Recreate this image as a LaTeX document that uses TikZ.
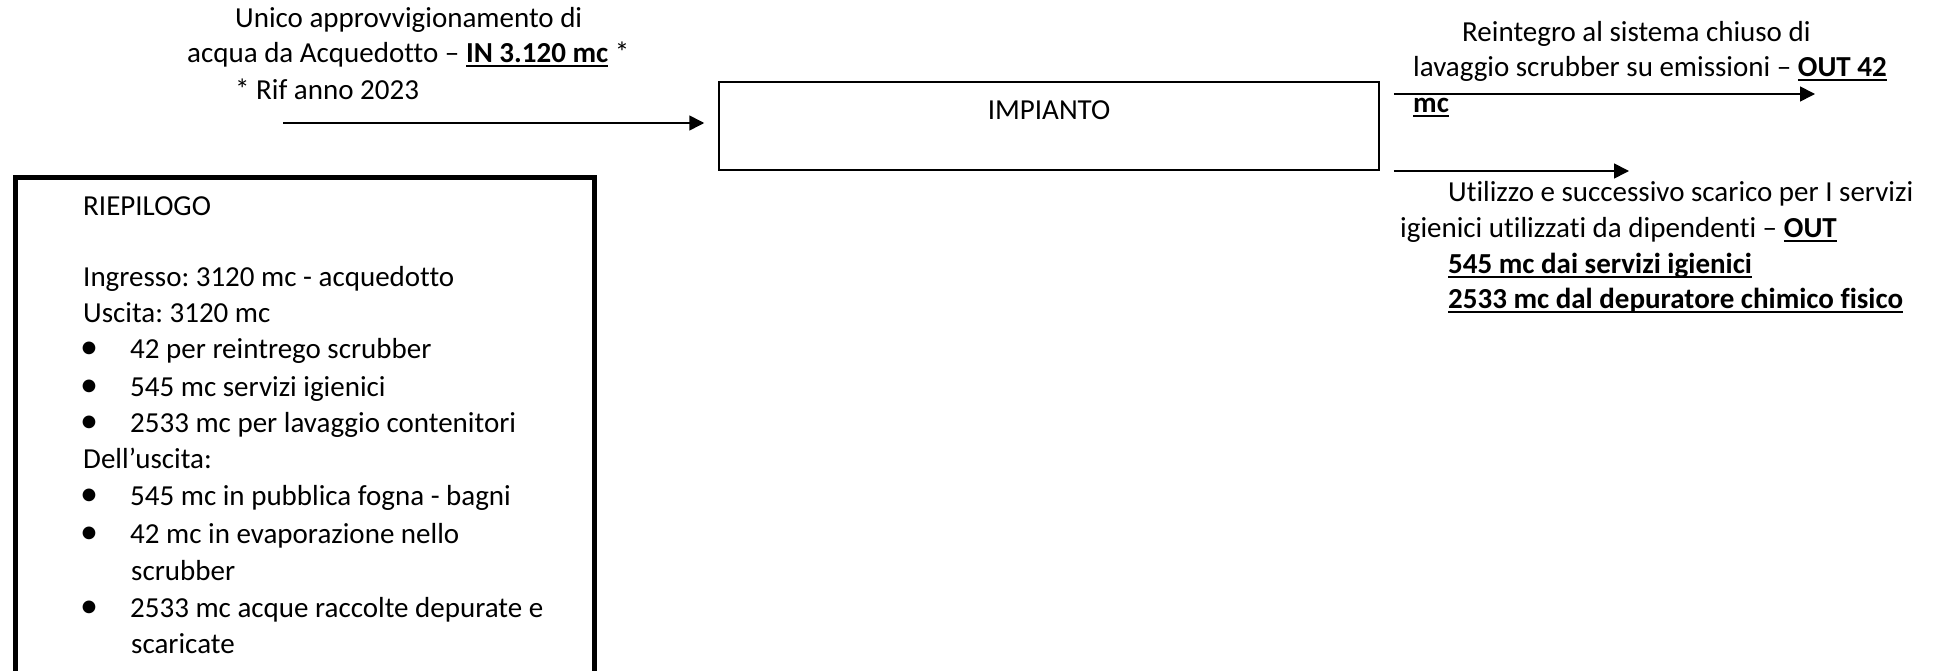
\documentclass[tikz,border=0pt]{standalone}
\usepackage{fontspec}
\setmainfont{Carlito}[Ligatures={NoCommon}]
\usetikzlibrary{arrows.meta}
% bold text with a fixed underline just below the baseline
\newcommand{\hl}[1]{\setbox0\hbox{\textbf{#1}}\rlap{\rule[-4.5pt]{\wd0}{2pt}}\box0\relax}
\frenchspacing

\begin{document}
\begin{tikzpicture}[x=1pt,y=-1pt,
  lbl/.style={anchor=base west, inner sep=0pt, font=\fontsize{29}{36}\selectfont},
  bul/.style={anchor=base, inner sep=0pt, font=\fontsize{36}{36}\selectfont},
  flow/.style={line width=1.6pt, -{Triangle[length=15pt,width=15pt]}},
  plant/.style={draw, line width=1.5pt, inner sep=0pt, minimum width=660pt,
    text height=38pt, text depth=50pt, font=\fontsize{29}{36}\selectfont},
  summary/.style={draw, line width=5pt, inner sep=0pt, minimum width=579pt,
    minimum height=540pt, anchor=north west}]
\useasboundingbox (0,0) rectangle (1941,671);

% main block
\node[plant, anchor=base] (impianto) at (1049,120) {IMPIANTO};

% incoming water supply
\node[lbl] (in1) at (235,28) {Unico approvvigionamento di};
\node[lbl] (in2) at (187,63) {acqua da Acquedotto – \hl{IN 3.120 mc} *};
\node[lbl] (in3) at (235,100) {* Rif anno 2023};
\coordinate (inStart) at (283,123);
\draw[flow] (inStart) -- ([xshift=-14pt]impianto.west |- inStart);

% outgoing flows
\coordinate (out1End) at (1815,94);
\coordinate (out2End) at (1629,171);
\draw[flow] ([xshift=14pt]impianto.east |- out1End) -- (out1End);
\draw[flow] ([xshift=14pt]impianto.east |- out2End) -- (out2End);

\node[lbl] (o1a) at (1462,42) {Reintegro al sistema chiuso di};
\node[lbl] (o1b) at (1413,77) {lavaggio scrubber su emissioni – \hl{OUT 42}};
\node[lbl] (o1c) at (1413,113) {\hl{mc}};

\node[lbl] (o2a) at (1448,202) {Utilizzo e successivo scarico per I servizi};
\node[lbl] (o2b) at (1400,237) {igienici utilizzati da dipendenti – \hl{OUT}};
\node[lbl] (o2c) at (1448,273) {\hl{545 mc dai servizi igienici}};
\node[lbl] (o2d) at (1448,308) {\hl{2533 mc dal depuratore chimico fisico}};

% summary panel
\node[summary] (riepilogo) at (12.5,175) {};
\node[lbl] (s0) at (83,215) {RIEPILOGO};
\node[lbl] (s1) at (83,286) {Ingresso: 3120 mc - acquedotto};
\node[lbl] (s2) at (83,322) {Uscita: 3120 mc};
\node[bul] (b1) at (89,358) {•};
\node[lbl] (s3) at (130,358) {42 per reintrego scrubber};
\node[bul] (b2) at (89,396) {•};
\node[lbl] (s4) at (130,396) {545 mc servizi igienici};
\node[bul] (b3) at (89,432) {•};
\node[lbl] (s5) at (130,432) {2533 mc per lavaggio contenitori};
\node[lbl] (s6) at (83,468) {Dell’uscita:};
\node[bul] (b4) at (89,505) {•};
\node[lbl] (s7) at (130,505) {545 mc in pubblica fogna - bagni};
\node[bul] (b5) at (89,543) {•};
\node[lbl] (s8) at (130,543) {42 mc in evaporazione nello};
\node[lbl] (s9) at (131,580) {scrubber};
\node[bul] (b6) at (89,617) {•};
\node[lbl] (s10) at (130,617) {2533 mc acque raccolte depurate e};
\node[lbl] (s11) at (131,653) {scaricate};
\end{tikzpicture}
\end{document}
